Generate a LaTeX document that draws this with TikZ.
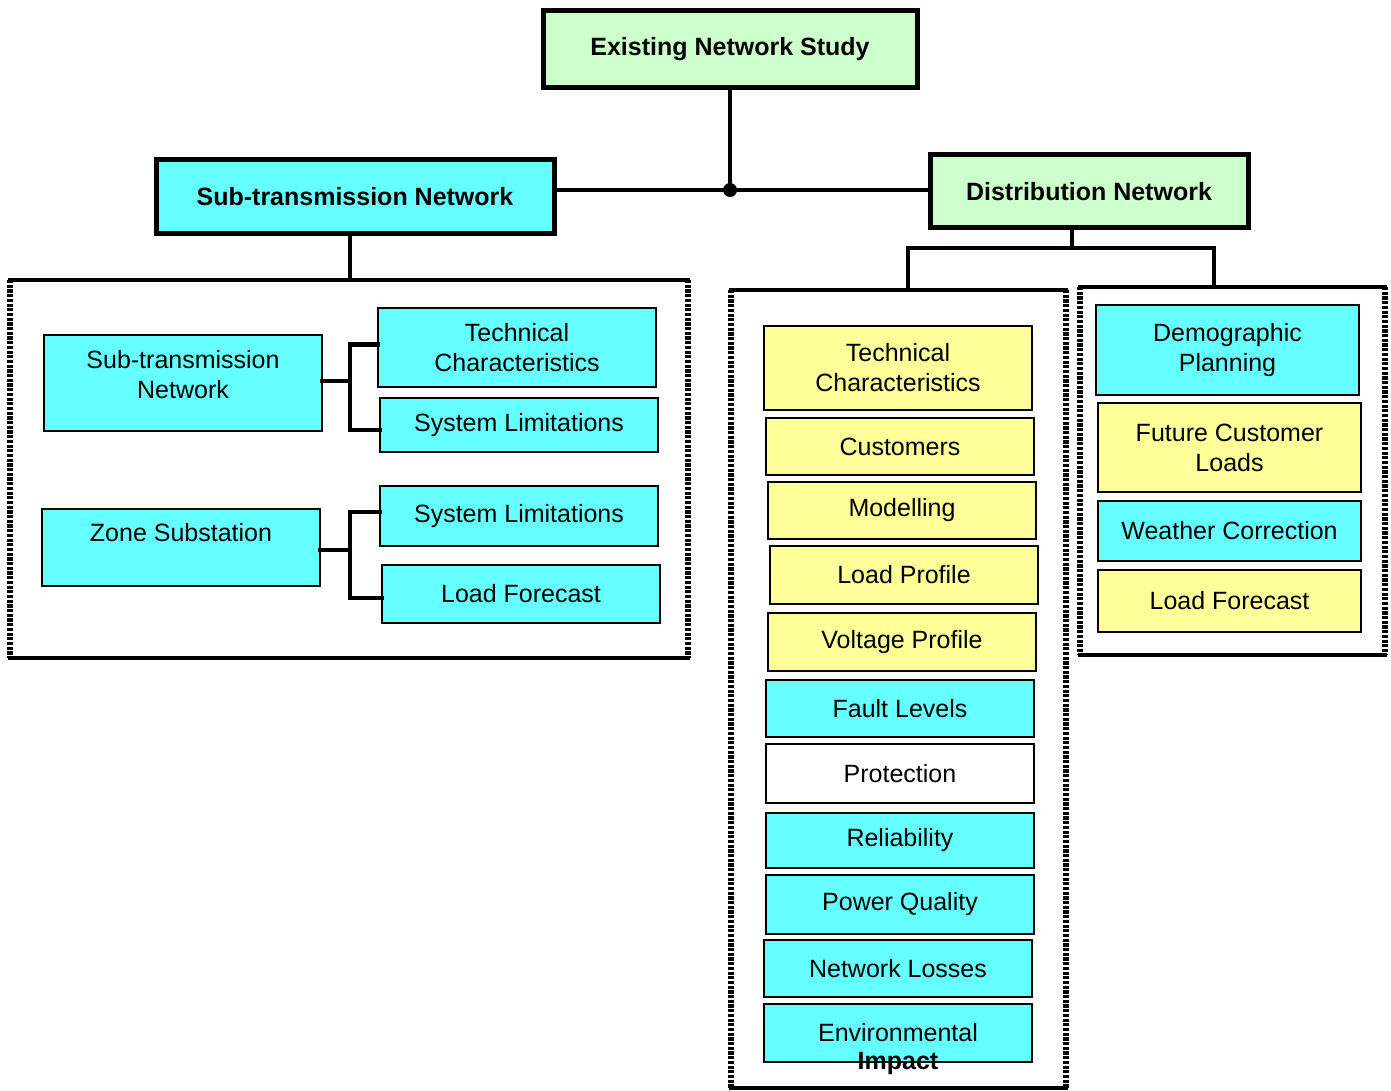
\documentclass[tikz,border=0pt]{standalone}
\usepackage{fontspec}
\setmainfont{Liberation Sans}
\definecolor{cyanbox}{HTML}{66FFFF}
\definecolor{yellowbox}{HTML}{FFFF99}
\definecolor{greenbox}{HTML}{CCFFCC}
\begin{document}
\begin{tikzpicture}[x=1pt,y=-1pt,
  every node/.style={inner sep=0pt, outer sep=0pt, align=center,
    font=\fontsize{25}{30}\selectfont},
  wh/.style 2 args={minimum width=#1pt, minimum height=#2pt},
  head/.style={draw, line width=5pt, font=\fontsize{25}{30}\selectfont\bfseries},
  item/.style={draw, line width=2.8pt},
  cy/.style={item, fill=cyanbox},
  ye/.style={item, fill=yellowbox},
  wt/.style={item, fill=white},
  frame/.style={rectangle},
  conn/.style={line width=4.5pt, line cap=rect},
  frameedge/.style={line width=4.5pt, line cap=rect},
  frameside/.style={line width=6pt, dash pattern=on 3.2pt off 1.5pt},
]
\useasboundingbox (0,0) rectangle (1391,1091);

% ---------- headers ----------
\node[head, fill=greenbox, wh={374}{77}] (top) at (730,49.5) {Existing Network Study};
\node[head, fill=cyanbox, wh={398}{74}] (subtx) at (355,197) {Sub-transmission Network};
\node[head, fill=greenbox, wh={318}{73}] (dist) at (1089,191.5) {Distribution Network};

% ---------- group frames ----------
\node[frame, wh={678}{378}] (lframe) at (349,469) {};
\node[frame, wh={335}{798}] (mframe) at (898.5,689) {};
\node[frame, wh={305}{368}] (rframe) at (1232.5,471) {};

\foreach \f in {lframe,mframe,rframe}{
  \draw[frameside] (\f.north west) -- (\f.south west);
  \draw[frameside] (\f.north east) -- (\f.south east);
  \draw[frameedge] (\f.north west) -- (\f.north east);
  \draw[frameedge] (\f.south west) -- (\f.south east);
}

% ---------- top-level connectors ----------
\coordinate (junc) at (730,190);
\draw[conn] (top.south) -- (junc);
\draw[conn] (subtx.east |- junc) -- (dist.west |- junc);
\fill (junc) circle (7pt);
\draw[conn] ([xshift=-5pt]subtx.south) -- ([xshift=1pt]lframe.north);
\coordinate (dj) at (1072,248);
\draw[conn] ([xshift=-17pt]dist.south) -- (dj);
\draw[conn] ([xshift=9.5pt]mframe.north) |- ([xshift=-18.5pt]rframe.north |- dj)
  -- ([xshift=-18.5pt]rframe.north);

% ---------- sub-transmission group ----------
\node[cy, wh={278}{96}] (ls) at (183,383) {Sub-transmission\\Network\\[-22pt]\strut};
\node[cy, wh={278}{79}] (lsa) at (517,347.5) {Technical\\Characteristics};
\node[cy, wh={278}{54}] (lsb) at (519,425) {System Limitations};
\coordinate (ja) at (350,381);
\draw[conn] (ls.east |- ja) -- (ja);
\draw[conn] ([yshift=3pt]lsa.west) -| (ja) |- ([yshift=-5pt]lsb.west);

\node[cy, wh={278}{77}] (lz) at (181,547.5) {Zone Substation\\\phantom{X}};
\node[cy, wh={278}{60}] (lza) at (519,516) {System Limitations};
\node[cy, wh={278}{58}] (lzb) at (521,594) {Load Forecast};
\coordinate (jb) at (350,550);
\draw[conn] (lz.east |- jb) -- (jb);
\draw[conn] ([yshift=4pt]lza.west) -| (jb) |- ([yshift=-4pt]lzb.west);

% ---------- distribution: existing network column ----------
\node[ye, wh={268}{84}] (m1) at (898,368) {Technical\\Characteristics};
\node[ye, wh={268}{57}] (m2) at (900,446.5) {Customers};
\node[ye, wh={268}{57}] (m3) at (902,510.5) {Modelling};
\node[ye, wh={268}{58}] (m4) at (904,575) {Load Profile};
\node[ye, wh={268}{58}] (m5) at (902,642) {Voltage Profile};
\node[cy, wh={268}{57}] (m6) at (900,708.5) {Fault Levels};
\node[wt, wh={268}{59}] (m7) at (900,773.5) {Protection};
\node[cy, wh={268}{55}] (m8) at (900,840.5) {Reliability};
\node[cy, wh={268}{59}] (m9) at (900,904.5) {Power Quality};
\node[cy, wh={268}{57}] (m10) at (898,968.5) {Network Losses};
\node[cy, wh={268}{58}] (m11) at (898,1033) {Environmental};
\node[font=\fontsize{25}{30}\selectfont\bfseries] (m11b) at (898,1063) {Impact};

% ---------- distribution: planning column ----------
\node[cy, wh={263}{90}] (r1) at (1227.5,350) {Demographic\\Planning};
\node[ye, wh={263}{89}] (r2) at (1229.5,447.5) {Future Customer\\Loads};
\node[cy, wh={263}{60}] (r3) at (1229.5,531) {Weather Correction};
\node[ye, wh={263}{62}] (r4) at (1229.5,601) {Load Forecast};
\end{tikzpicture}
\end{document}
